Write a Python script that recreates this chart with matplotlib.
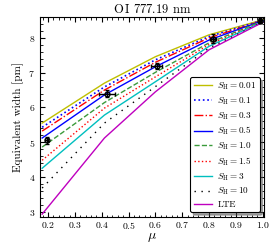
import numpy as np
import matplotlib
matplotlib.use("Agg")
import matplotlib.pyplot as plt

plt.rcParams['font.family'] = 'serif'
plt.rcParams['font.serif'] = ['cmr10', 'DejaVu Serif']
plt.rcParams['mathtext.fontset'] = 'cm'
plt.rcParams['axes.formatter.use_mathtext'] = True

# model mu grid and equivalent widths [pm]
mu = [0.178, 0.41, 0.6, 0.8, 1.0]
ew_001 = [5.55, 6.70, 7.46, 8.09, 8.52]
ew_01 = [5.43, 6.59, 7.37, 8.04, 8.51]
ew_03 = [5.32, 6.50, 7.30, 8.00, 8.50]
ew_05 = [5.12, 6.36, 7.17, 7.94, 8.50]
ew_10 = [4.86, 6.14, 7.01, 7.86, 8.49]
ew_15 = [4.48, 5.98, 6.88, 7.81, 8.48]
ew_3 = [4.25, 5.78, 6.74, 7.76, 8.47]
ew_10b = [3.68, 5.55, 6.60, 7.71, 8.46]
ew_lte = [2.93, 5.12, 6.45, 7.66, 8.45]

# observations
mu_obs = [0.195, 0.42, 0.605, 0.815, 0.99]
ew_obs = [5.05, 6.40, 7.20, 7.98, 8.50]
mu_err = [0.005, 0.03, 0.02, 0.01, 0.005]
ew_err = [0.1, 0.1, 0.08, 0.12, 0.08]

fig = plt.figure(figsize=(2.74, 2.44), dpi=100)
ax = fig.add_axes([0.146, 0.111, 0.818, 0.819])

ax.plot(mu, ew_001, '-', color='y', lw=1, label=r'$S_{\rm H} = 0.01$')
ax.plot(mu, ew_01, ':', color='b', lw=1.2, label=r'$S_{\rm H} = 0.1$')
ax.plot(mu, ew_03, '-.', color='r', lw=1, label=r'$S_{\rm H} = 0.3$')
ax.plot(mu, ew_05, '-', color='b', lw=1, label=r'$S_{\rm H} = 0.5$')
ax.plot(mu, ew_10, '--', color='#3a9a3a', lw=1, label=r'$S_{\rm H} = 1.0$')
ax.plot(mu, ew_15, ':', color='r', lw=1, label=r'$S_{\rm H} = 1.5$')
ax.plot(mu, ew_3, '-', color='c', lw=1, label=r'$S_{\rm H} = 3$')
ax.plot(mu, ew_10b, '-.', color='k', lw=1, dashes=(1, 4, 1, 4), label=r'$S_{\rm H} = 10$')
ax.plot(mu, ew_lte, '-', color='m', lw=1, label='LTE')

ax.errorbar(mu_obs, ew_obs, xerr=mu_err, yerr=ew_err, fmt='o', ms=3.5,
            mfc='none', mec='k', ecolor='k', elinewidth=1, capsize=1.5, zorder=5)

ax.set_xlim(0.17, 1.005)
ax.set_ylim(2.85, 8.6)
ax.set_xticks(np.arange(0.2, 1.01, 0.1))
ax.set_yticks([3, 4, 5, 6, 7, 8])
ax.xaxis.set_minor_locator(plt.MultipleLocator(0.02))
ax.yaxis.set_minor_locator(plt.MultipleLocator(0.2))
ax.tick_params(which='both', direction='in', top=True, right=True, labelsize=7)
ax.tick_params(which='major', length=3.5)
ax.tick_params(which='minor', length=1.8)
ax.tick_params(axis='x', pad=2.5)
ax.set_xlabel(r'$\mu$', fontsize=10, labelpad=0)
ax.set_ylabel('Equivalent width [pm]', fontsize=8, labelpad=3)
ax.set_title('O$\\,$I 777.19 nm', fontsize=9, pad=3)

leg = ax.legend(loc='lower right', fontsize=6.6, shadow=True, fancybox=True,
                handlelength=2.0, labelspacing=0.35, borderpad=0.35,
                handletextpad=0.6, borderaxespad=0.5,
                framealpha=1, edgecolor='k')
leg.get_frame().set_linewidth(0.8)

fig.savefig('out.png', dpi=100)
